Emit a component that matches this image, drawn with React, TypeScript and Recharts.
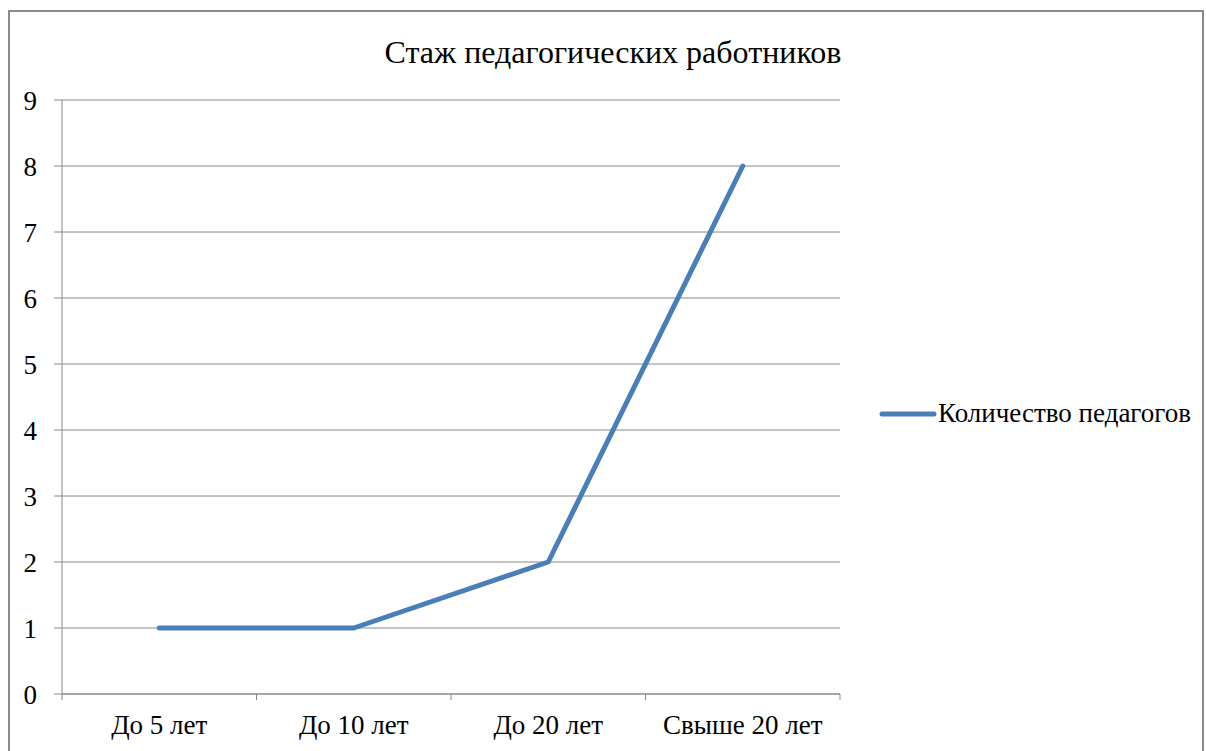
import React from 'react';
import { LineChart, Line, XAxis, YAxis, CartesianGrid } from 'recharts';

const categories = ['До 5 лет', 'До 10 лет', 'До 20 лет', 'Свыше 20 лет'];
const values = [1, 1, 2, 8];
const yTicks = [0, 1, 2, 3, 4, 5, 6, 7, 8, 9];
const seriesName = 'Количество педагогов';
const title = 'Стаж педагогических работников';

const data = categories.map((c, i) => ({ pos: i + 0.5, name: c, value: values[i] }));
const xTicks: number[] = [];
for (let i = 0; i <= categories.length; i++) {
  xTicks.push(i);
  if (i < categories.length) xTicks.push(i + 0.5);
}

const FONT = '"Liberation Serif", "Times New Roman", serif';
const GRID = '#888888';
const BLUE = '#4a7ebb';

const XTick = (props: any) => {
  const { x, y, payload } = props;
  const v = payload.value as number;
  if (Number.isInteger(v)) {
    return <line x1={x} x2={x} y1={y} y2={y + 6} stroke={GRID} strokeWidth={1} />;
  }
  return (
    <text x={x} y={y + 40} textAnchor="middle" fontFamily={FONT} fontSize={27} fill="#000">
      {categories[Math.floor(v)]}
    </text>
  );
};

export default function App() {
  return (
    <div style={{ position: 'absolute', left: 0, top: 0, width: 1206, height: 751, overflow: 'hidden', background: '#fff' }}>
      <div style={{ position: 'absolute', left: 8, top: 10, width: 1196, height: 800, border: '2px solid #8c8c8c', boxSizing: 'border-box' }} />
      <div style={{ position: 'absolute', left: 0, top: 0 }}>
        <LineChart width={1206} height={751} data={data} margin={{ top: 100, right: 366, left: 0, bottom: 0 }}>
          <text x={613} y={63} textAnchor="middle" fontFamily={FONT} fontSize={32} fill="#000">{title}</text>
          <CartesianGrid horizontal vertical={false} stroke={GRID} strokeWidth={1} />
          <XAxis
            dataKey="pos"
            type="number"
            domain={[0, categories.length]}
            ticks={xTicks}
            interval={0}
            height={57}
            tickSize={0}
            tickMargin={0}
            tickLine={false}
            axisLine={{ stroke: GRID, strokeWidth: 1 }}
            tick={<XTick />}
          />
          <YAxis
            domain={[0, 9]}
            ticks={yTicks}
            interval={0}
            width={62}
            tickSize={8}
            tickMargin={17}
            tickLine={{ stroke: GRID, strokeWidth: 1 }}
            axisLine={{ stroke: GRID, strokeWidth: 1 }}
            tick={{ fontFamily: FONT, fontSize: 27, fill: '#000' }}
          />
          <Line
            type="linear"
            dataKey="value"
            name={seriesName}
            stroke={BLUE}
            strokeWidth={5}
            strokeLinecap="round"
            strokeLinejoin="round"
            dot={false}
            activeDot={false}
            isAnimationActive={false}
          />
        </LineChart>
      </div>
      <div style={{ position: 'absolute', left: 878, top: 398, display: 'flex', alignItems: 'center', fontFamily: FONT, fontSize: 27, color: '#000', whiteSpace: 'nowrap' }}>
        <svg width={60} height={10} style={{ display: 'block' }}>
          <line x1={4} x2={56} y1={5} y2={5} stroke={BLUE} strokeWidth={5} strokeLinecap="round" />
        </svg>
        <span>{seriesName}</span>
      </div>
    </div>
  );
}
